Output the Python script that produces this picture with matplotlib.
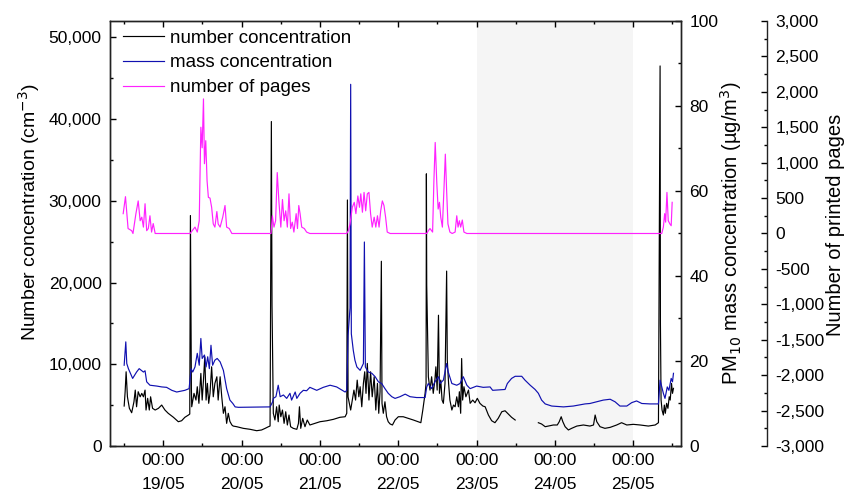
import numpy as np
import pandas as pd
import matplotlib
matplotlib.use("Agg")
import matplotlib.pyplot as plt
import matplotlib.dates as mdates
from matplotlib.ticker import MultipleLocator, FuncFormatter

plt.rcParams['font.family'] = ['Liberation Sans', 'DejaVu Sans']
plt.rcParams['font.size'] = 12.5

BASE = pd.Timestamp("2013-05-18 00:00")

# hours since 18/05 00:00
pages_h = [11.7, 12.4, 13.2, 14.3, 14.7, 15.6, 16.3, 16.9, 17.4, 17.9, 18.4, 18.9, 19.4, 19.9, 20.4, 20.9, 21.5,
           32.2, 33.7, 34.4, 35.0, 35.5, 35.9, 36.3, 36.6, 37.0, 37.4, 37.8, 38.3, 38.8, 39.3, 39.8, 40.4, 40.8,
           41.4, 42.2, 42.9, 43.4, 44.2, 45.0,
           57.0, 57.4, 57.9, 58.4, 58.9, 59.4, 60.0, 60.5, 61.0, 61.5, 62.0, 62.5, 63.0, 63.5, 64.0, 64.7, 65.1,
           65.5, 65.9, 66.4, 67.2, 67.9, 68.9,
           80.2, 80.7, 81.2, 81.9, 82.5, 83.0, 83.6, 84.1, 84.5, 85.0, 85.5, 86.0, 86.5, 87.0, 87.5, 88.0, 88.6,
           89.1, 89.6, 90.1, 90.6, 91.1, 91.6, 92.1, 92.6, 93.5,
           104.7, 105.2, 105.7, 106.5, 106.9, 107.3, 107.8, 108.2, 108.6, 109.0, 109.5, 110.0, 110.4, 110.8,
           111.2, 111.8, 112.5, 113.4, 113.9, 114.3, 114.7, 115.1, 115.6, 116.1, 117.0,
           176.7, 177.2, 177.6, 177.9, 178.3, 178.7, 179.2, 179.6, 179.9]
pages = [280, 520, 70, 40, 0, 280, 460, 180, 230, 90, 420, 40, 70, 250, 20, 140, 0,
         0, 90, 20, 180, 1500, 1210, 1900, 985, 1310, 745, 510, 500, 370, 135, 90, 310, 135,
         90, 230, 395, 90, 70, 0,
         0, 250, 90, 180, 860, 460, 90, 480, 180, 320, 90, 560, 70, 160, 20, 280, 70,
         395, 280, 90, 70, 20, 0,
         0, 40, 135, 370, 440, 280, 530, 370, 560, 300, 580, 320, 560, 580, 280, 90, 230,
         90, 250, 90, 320, 460, 395, 230, 20, 0,
         0, 40, 70, 20, 745, 1285, 700, 345, 440, 230, 90, 650, 1120, 605,
         135, 20, 0, 20, 250, 90, 180, 90, 190, 20, 0,
         0, 90, 280, 160, 580, 180, 135, 110, 440]

mass_h = [12.0, 12.5, 12.8, 13.3, 14.6, 15.8, 16.6, 17.9, 18.4, 18.9, 19.9, 22.0, 23.5, 25.0, 26.6, 28.1, 30.6,
          31.9, 32.5, 33.0, 33.7, 34.4, 35.0, 35.5, 35.9, 36.6, 37.1, 37.6, 38.1, 38.6, 39.1, 39.8, 40.5, 41.4,
          42.4, 43.4, 44.4, 45.3, 46.0, 47.0, 56.7, 57.5, 57.7, 58.5, 59.2, 59.8, 60.8, 61.8, 62.8, 63.3, 64.4,
          64.9, 65.9, 66.9, 67.9, 68.9, 71.0, 73.0, 75.1, 77.1, 79.7, 80.2, 80.6, 81.2, 81.4, 81.6, 82.2, 82.7,
          83.3, 84.3, 85.3, 85.6, 85.9, 86.8, 87.9, 88.9, 89.9, 90.9, 91.9, 92.9, 94.0, 95.0, 96.5, 98.1, 99.6,
          101.6, 104.2, 104.7, 105.2, 106.2, 107.2, 108.3, 108.8, 109.8, 110.8, 111.3, 112.4, 113.9, 114.9,
          115.9, 117.0, 118.0, 119.0, 120.0, 122.0, 124.1, 124.9, 128.7, 129.4, 130.7, 131.8, 133.8, 134.8,
          136.4, 137.9, 138.9, 139.9, 141.0, 143.0, 146.6, 149.6, 153.2, 154.7, 156.8, 158.8, 160.9, 162.4,
          163.9, 166.0, 167.5, 169.0, 170.6, 173.1, 175.7, 176.2, 176.7, 177.2, 177.7, 178.4, 178.9, 179.6,
          180.0, 180.3]
mass = [19.0, 24.5, 19.4, 18.2, 15.9, 17.4, 18.2, 17.4, 17.7, 15.1, 14.3, 14.1, 13.9, 13.8, 13.1, 12.7, 13.1,
        13.5, 18.2, 17.4, 18.6, 21.8, 19.0, 25.3, 20.6, 21.4, 18.6, 21.0, 18.2, 23.7, 19.0, 20.2, 20.6, 19.8,
        17.8, 13.5, 10.8, 10.0, 9.2, 9.1, 9.2, 10.4, 11.2, 11.6, 14.3, 11.6, 12.0, 11.2, 12.4, 10.8, 12.7,
        11.2, 12.4, 13.1, 13.0, 13.8, 13.1, 13.8, 14.3, 13.9, 12.7, 13.1, 26.0, 32.5, 85.1, 26.4, 22.5, 20.2,
        18.6, 17.8, 19.4, 48.0, 18.6, 17.4, 17.1, 16.3, 15.1, 14.7, 13.5, 12.4, 11.6, 11.2, 11.6, 12.2, 11.6,
        11.4, 11.4, 13.9, 14.7, 13.5, 15.1, 16.3, 14.7, 15.5, 19.4, 17.4, 14.7, 14.3, 14.7,
        16.3, 14.3, 13.5, 13.8, 14.1, 13.8, 13.9, 13.1, 13.3, 14.7, 15.9, 16.4, 16.4, 15.5,
        14.3, 13.3, 12.4, 10.8, 9.9, 9.4, 9.2, 9.4, 9.9, 10.0, 10.4, 10.8, 11.0, 10.4,
        9.4, 9.4, 10.2, 10.6, 10.0, 9.9, 9.9, 15.5, 13.9, 12.4, 11.2, 13.9, 13.1, 15.9,
        15.1, 17.1]

number_h = [12.0, 12.3, 12.6, 13.0, 13.6, 14.3, 15.0, 15.4, 15.8, 16.3, 16.9, 17.4, 17.9, 18.4, 18.7, 19.2, 19.7,
            20.1, 20.7, 21.5, 22.5, 23.5, 24.5, 25.5, 27.1, 28.6, 29.6, 30.6, 31.7, 32.1, 32.3, 32.4, 32.6,
            32.7, 33.4, 34.0, 34.4, 34.9, 35.5, 35.9, 36.3, 36.7, 37.1, 37.5, 37.9, 38.3, 38.8, 39.3, 39.8,
            40.4, 40.8, 41.4, 41.9, 42.4, 42.9, 43.4, 43.9, 44.4, 45.0, 45.4, 46.5, 48.5, 50.6, 52.6, 54.1,
            55.2, 56.2, 56.7, 57.1, 57.3, 57.7, 58.2, 58.7, 59.2, 59.5, 60.0, 60.5, 61.0, 61.5, 62.0, 62.5,
            63.0, 63.8, 64.9, 65.4, 65.7, 66.1, 66.7, 67.4, 68.1, 68.9, 70.5, 72.0, 74.1, 76.1, 78.1, 79.7,
            80.2, 80.4, 80.6, 81.4, 82.0, 82.4, 82.9, 83.4, 83.9, 84.3, 84.8, 85.3, 85.7, 86.1, 86.5, 87.0,
            87.5, 88.0, 88.6, 89.1, 89.6, 90.0, 90.4, 90.8, 91.0, 91.4, 91.9, 92.4, 92.9, 93.5, 94.2, 95.0,
            96.0, 97.5, 99.1, 100.6, 102.1, 102.9, 103.5, 104.2, 104.5, 104.6, 104.7, 105.2, 105.7, 106.2,
            106.7, 107.2, 107.5, 107.9, 108.3, 108.6, 109.0, 109.4, 109.8, 110.3, 110.8, 111.0, 111.4, 111.8,
            112.4, 112.9, 113.4, 113.9, 114.4, 114.7, 115.1, 115.4, 115.7, 116.1, 116.7, 117.5, 118.0, 118.8,
            119.5, 120.2, 121.0, 121.9, 122.6, 123.6, 124.6, 125.6, 126.6, 127.7, 128.7, 129.7, 130.7, 131.8,
            135.0,
            138.9, 139.9, 141.0, 142.0, 143.5, 144.7, 145.3, 145.9, 146.4, 147.1, 148.1, 149.1, 150.7, 152.7,
            154.7, 155.8, 156.3, 156.8, 157.8, 159.3, 160.9, 162.9, 164.4, 166.0, 168.0, 170.1, 172.6, 174.7,
            175.7, 176.2, 176.3, 176.5, 176.8, 177.2, 177.5, 177.8, 178.2, 178.6, 179.0, 179.3, 179.7, 180.0,
            180.3]
number = [4890, 6640, 9080, 6020, 4610, 4070, 5410, 6840, 4800, 6640, 6020, 6440, 6020, 6840, 4400, 5830, 4400,
          6020, 4610, 4400, 4610, 5010, 4400, 4000, 3510, 2970, 3090, 3510, 3790, 3910, 28200, 21800, 7000,
          4800, 6440, 5620, 7250, 5220, 8880, 5620, 8060, 10900, 5620, 7660, 5220, 6440, 9690, 6020, 7660,
          8470, 5620, 8470, 6020, 4000, 4800, 2770, 4000, 3000, 2570, 2440, 2360, 2160, 2040, 1870, 1960,
          2160, 2360, 2440, 39700, 17200, 4000, 3180, 4800, 2970, 5010, 3580, 4400, 2770, 4190, 2570, 3790,
          2360, 2160, 2040, 2770, 4800, 2160, 3380, 2360, 3180, 2570, 2770, 2970, 3090, 3260, 3510, 3580,
          4000, 30100, 6000, 4400, 5830, 6840, 5620, 8060, 6020, 7250, 4800, 7660, 9080, 6440, 10100, 5620,
          9080, 6020, 8470, 4400, 7660, 4000, 6640, 22600, 5220, 4000, 5410, 3580, 2970, 2690, 2570, 3180,
          3580, 3580, 3380, 3180, 2970, 2850, 4400, 6440, 7660, 33300, 19700, 8470, 6840, 8470,
          6440, 8060, 9690, 6840, 16000, 6440, 8060, 5620, 5220, 7660, 21400, 10500, 7660, 5620,
          4400, 5010, 4800, 6020, 4800, 6640, 4000, 10700, 5620, 7250, 6020, 6840, 5220, 5620,
          5290, 5830, 5220, 4890, 4800, 3790, 3090, 2850, 3380, 4190, 4310, 3910, 3510, 3180,
          np.nan,
          2850, 2690, 2360, 2440, 2570, 2570, 2970, 3580, 2970, 2360, 1960, 2160, 2440, 2570,
          2440, 2570, 3790, 2970, 2360, 2160, 2280, 2570, 2850, 2570, 2650, 2570, 2440, 2570,
          2850, 46500, 15000, 5620, 4400, 3790, 5010, 4000, 5220, 4610, 6020, 5620, 7660, 6440,
          7050]

weekend_h = (120, 168)   # 23/05 00:00 - 25/05 00:00
xlim_h = (7.66, 182.6)


def to_time(hours):
    return BASE + pd.to_timedelta(hours, unit="h")


def thousands(v, pos):
    return f"{int(round(v)):,}"


fig = plt.figure(figsize=(8.54, 4.95), dpi=100)
ax = fig.add_axes([0.1288, 0.099, 0.6686, 0.8586])
ax2 = ax.twinx()
ax3 = ax.twinx()
ax3.spines["right"].set_position(("axes", 1.1506))

ax.axvspan(to_time(weekend_h[0]), to_time(weekend_h[1]), color="#f5f5f5", lw=0, zorder=0)

l1, = ax.plot(to_time(number_h), number, color="black", lw=0.85, label="number concentration")
l2, = ax2.plot(to_time(mass_h), mass, color="#1010b0", lw=0.85, label="mass concentration")
l3, = ax3.plot(to_time(pages_h), pages, color="#ff22ff", lw=0.85, label="number of pages")

ax.set_xlim(to_time(xlim_h[0]), to_time(xlim_h[1]))
ax.set_ylim(0, 52000)
ax2.set_ylim(0, 100)
ax3.set_ylim(-3000, 3000)

ax.xaxis.set_major_locator(mdates.DayLocator())
ax.xaxis.set_minor_locator(mdates.HourLocator(byhour=[12]))
ax.xaxis.set_major_formatter(mdates.DateFormatter("%H:%M\n%d/%m"))

ax.yaxis.set_major_locator(MultipleLocator(10000))
ax.yaxis.set_minor_locator(MultipleLocator(5000))
ax.yaxis.set_major_formatter(FuncFormatter(thousands))
ax2.yaxis.set_major_locator(MultipleLocator(20))
ax2.yaxis.set_minor_locator(MultipleLocator(10))
ax3.yaxis.set_major_locator(MultipleLocator(500))
ax3.yaxis.set_minor_locator(MultipleLocator(250))
ax3.yaxis.set_major_formatter(FuncFormatter(thousands))

for a in (ax, ax2, ax3):
    for s in a.spines.values():
        s.set_linewidth(1.0)
        s.set_color("#222222")
    a.tick_params(which="major", direction="in", length=4.5, width=1.0, labelsize=12.5, pad=6)
    a.tick_params(which="minor", direction="in", length=2.5, width=1.0)
ax.tick_params(axis="x", which="both", top=True, pad=5)
ax.tick_params(axis="y", which="both", right=False)
ax3.spines["left"].set_visible(False)
ax3.spines["top"].set_visible(False)
ax3.spines["bottom"].set_visible(False)

ax.set_ylabel("Number concentration (cm$^{-3}$)", fontsize=14, labelpad=5)
ax2.set_ylabel("PM$_{10}$ mass concentration (µg/m$^{3}$)", fontsize=14.5, labelpad=0)
ax3.set_ylabel("Number of printed pages", fontsize=14.5, labelpad=1)
ax.yaxis.label.set_y(0.55)
ax3.yaxis.label.set_y(0.52)

ax3.legend(handles=[l1, l2, l3], loc="upper left", bbox_to_anchor=(0.022, 0.98), frameon=False,
           fontsize=13.5, handlelength=2.2, handletextpad=0.32, labelspacing=0.41, borderaxespad=0,
           borderpad=0)

fig.canvas.draw()
for lab in ax.get_xticklabels():
    lab.set_linespacing(1.75)

fig.savefig("out.png", dpi=100)
